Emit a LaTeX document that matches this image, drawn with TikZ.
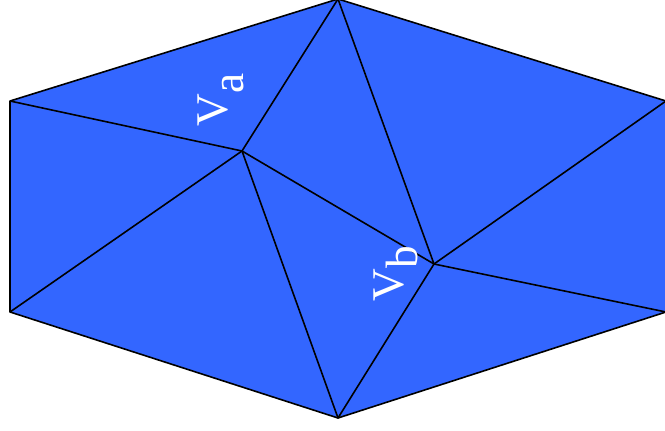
\documentclass[tikz,border=0pt]{standalone}
\usepackage{fontspec}
\setmainfont{Liberation Serif}
\usepackage{tikz}
\definecolor{meshblue}{RGB}{51,102,255}
\tikzset{
  edge/.style={line width=1.2pt, color=black, line join=round},
  vlabel/.style={rotate=90, anchor=base west, inner sep=0pt,
    text=white, font=\fontsize{34}{40}\selectfont}
}

\begin{document}
\begin{tikzpicture}[x=0.75pt, y=-0.75pt]
  \useasboundingbox (0,0) rectangle (665,431);
  \clip (0,0) rectangle (665,431);

  % Outer hexagon
  \coordinate (top) at (338,-1);
  \coordinate (ur) at (666,101);
  \coordinate (lr) at (666,312);
  \coordinate (bot) at (338,418);
  \coordinate (ll) at (10,312);
  \coordinate (ul) at (10,101);
  \fill[meshblue] (top) -- (ur) -- (lr) -- (bot) -- (ll) -- (ul) -- cycle;
  \draw[edge] (top) -- (ur) -- (lr) -- (bot) -- (ll) -- (ul) -- cycle;

  % Inner vertices
  \coordinate (va) at (242,151);
  \coordinate (vb) at (434,264);

  % Edges from va
  \draw[edge] (va) -- (ul);
  \draw[edge] (va) -- (top);
  \draw[edge] (va) -- (ll);
  \draw[edge] (va) -- (bot);
  \draw[edge] (va) -- (vb);

  % Edges from vb
  \draw[edge] (vb) -- (top);
  \draw[edge] (vb) -- (ur);
  \draw[edge] (vb) -- (lr);
  \draw[edge] (vb) -- (bot);

  % Labels
  \node[vlabel] (lbla) at (227,127) {V\raisebox{-0.37em}{a}};
  \node[vlabel] (lblb) at (403,302) {V\raisebox{-0.33em}{b}};
\end{tikzpicture}
\end{document}
